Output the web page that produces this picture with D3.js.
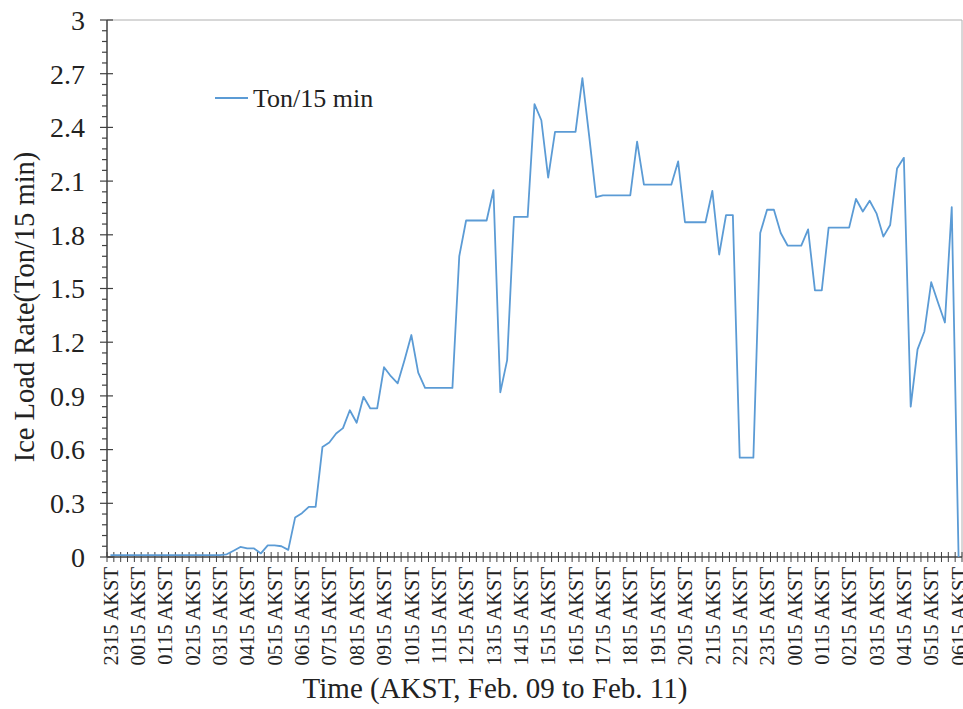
<!DOCTYPE html>
<html>
<head>
<meta charset="utf-8">
<script src="https://cdn.jsdelivr.net/npm/d3@7"></script>
<style>
  html, body { margin: 0; padding: 0; background: #fff; }
  svg { display: block; }
  text { font-family: "Liberation Serif", "Times New Roman", serif; fill: #222; }
</style>
</head>
<body>
<svg id="chart" width="963" height="709"></svg>
<script>
// Ice load rate, one value per 15-minute interval (2315 AKST Feb. 09 -> 0615 AKST Feb. 11)
const iceLoad = [
  0.01, 0.01, 0.01, 0.01, 0.01, 0.01, 0.01, 0.01, 0.01, 0.01,   // 0-9
  0.01, 0.01, 0.01, 0.01, 0.01, 0.01, 0.01, 0.015, 0.035, 0.056, // 10-19
  0.048, 0.048, 0.02, 0.065, 0.065, 0.06, 0.04, 0.22, 0.245, 0.28, // 20-29
  0.28, 0.615, 0.64, 0.69, 0.72, 0.82, 0.75, 0.895, 0.83, 0.83,  // 30-39
  1.06, 1.01, 0.97, 1.1, 1.24, 1.03, 0.945, 0.945, 0.945, 0.945, // 40-49
  0.945, 1.68, 1.88, 1.88, 1.88, 1.88, 2.05, 0.92, 1.1, 1.9,     // 50-59
  1.9, 1.9, 2.53, 2.44, 2.12, 2.375, 2.375, 2.375, 2.375, 2.675, // 60-69
  2.35, 2.01, 2.02, 2.02, 2.02, 2.02, 2.02, 2.32, 2.08, 2.08,    // 70-79
  2.08, 2.08, 2.08, 2.21, 1.87, 1.87, 1.87, 1.87, 2.045, 1.69,   // 80-89
  1.91, 1.91, 0.555, 0.555, 0.555, 1.81, 1.94, 1.94, 1.81, 1.74, // 90-99
  1.74, 1.74, 1.83, 1.49, 1.49, 1.84, 1.84, 1.84, 1.84, 2.0,     // 100-109
  1.93, 1.99, 1.92, 1.79, 1.855, 2.17, 2.23, 0.84, 1.16, 1.26,   // 110-119
  1.535, 1.42, 1.31, 1.955, 0                                    // 120-124
];

// Hourly category labels (every fourth 15-minute interval)
const timeLabels = [
  "2315 AKST", "0015 AKST", "0115 AKST", "0215 AKST", "0315 AKST", "0415 AKST",
  "0515 AKST", "0615 AKST", "0715 AKST", "0815 AKST", "0915 AKST", "1015 AKST",
  "1115 AKST", "1215 AKST", "1315 AKST", "1415 AKST", "1515 AKST", "1615 AKST",
  "1715 AKST", "1815 AKST", "1915 AKST", "2015 AKST", "2115 AKST", "2215 AKST",
  "2315 AKST", "0015 AKST", "0115 AKST", "0215 AKST", "0315 AKST", "0415 AKST",
  "0515 AKST", "0615 AKST"
];
const labelEvery = 4;

const yTickValues = [0, 0.3, 0.6, 0.9, 1.2, 1.5, 1.8, 2.1, 2.4, 2.7, 3];
const yTickText   = ["0", "0.3", "0.6", "0.9", "1.2", "1.5", "1.8", "2.1", "2.4", "2.7", "3"];
const yMinorStep = 0.06;

const seriesName = "Ton/15 min";
const xTitle = "Time (AKST, Feb. 09 to Feb. 11)";
const yTitle = "Ice Load Rate(Ton/15 min)";

const plot = { left: 107, right: 962, top: 20, bottom: 557 };
const lineColor = "#5b9bd5";
const axisColor = "#404040";

const svg = d3.select("#chart");

const x = d3.scaleBand()
  .domain(d3.range(iceLoad.length))
  .range([plot.left, plot.right])
  .paddingInner(0).paddingOuter(0);
const bw = x.bandwidth();
const cx = i => x(i) + bw / 2;

const y = d3.scaleLinear().domain([0, 3]).range([plot.bottom, plot.top]);

// plot-area border (top and right)
svg.append("path")
  .attr("d", `M${plot.left},${plot.top}H${plot.right}V${plot.bottom}`)
  .attr("fill", "none").attr("stroke", "#b0b0b0").attr("stroke-width", 1);

// Y axis: line, crossing major ticks, outside minor ticks, labels
const gy = svg.append("g");
gy.append("line")
  .attr("x1", plot.left).attr("x2", plot.left)
  .attr("y1", y(3)).attr("y2", y(0))
  .attr("stroke", axisColor).attr("stroke-width", 1.5);
const minorVals = d3.range(0, 3 + 1e-9, yMinorStep)
  .filter(v => Math.abs(v / 0.3 - Math.round(v / 0.3)) > 1e-6);
gy.selectAll("line.minor").data(minorVals).join("line")
  .attr("class", "minor")
  .attr("x1", plot.left - 5).attr("x2", plot.left)
  .attr("y1", d => y(d)).attr("y2", d => y(d))
  .attr("stroke", axisColor).attr("stroke-width", 1.2);
gy.selectAll("line.major").data(yTickValues).join("line")
  .attr("class", "major")
  .attr("x1", plot.left - 7).attr("x2", plot.left + 6)
  .attr("y1", d => y(d)).attr("y2", d => y(d))
  .attr("stroke", axisColor).attr("stroke-width", 1.2);
gy.selectAll("text").data(yTickValues).join("text")
  .attr("x", 85).attr("y", d => y(d)).attr("dy", "0.35em")
  .attr("text-anchor", "end")
  .style("font-size", "28px")
  .text((d, i) => yTickText[i]);

// X axis: line, crossing ticks at category boundaries, rotated hourly labels
const gx = svg.append("g");
gx.append("line")
  .attr("x1", plot.left).attr("x2", plot.right)
  .attr("y1", plot.bottom).attr("y2", plot.bottom)
  .attr("stroke", axisColor).attr("stroke-width", 1.5);
const boundaries = d3.range(iceLoad.length + 1).map(k => plot.left + k * bw);
gx.selectAll("line.tick").data(boundaries).join("line")
  .attr("class", "tick")
  .attr("x1", d => d).attr("x2", d => d)
  .attr("y1", plot.bottom - 5).attr("y2", plot.bottom + 5)
  .attr("stroke", axisColor).attr("stroke-width", 1);
gx.selectAll("text").data(timeLabels).join("text")
  .attr("transform", (d, k) => `translate(${cx(k * labelEvery)},${plot.bottom + 10}) rotate(-90)`)
  .attr("dy", "0.35em")
  .attr("text-anchor", "end")
  .style("font-size", "20.5px")
  .text(d => d);

// Series line
const line = d3.line()
  .x((d, i) => cx(i))
  .y(d => y(d));
svg.append("path")
  .datum(iceLoad)
  .attr("d", line)
  .attr("fill", "none")
  .attr("stroke", lineColor)
  .attr("stroke-width", 1.8)
  .attr("stroke-linejoin", "round");

// Axis titles
svg.append("text")
  .attr("x", 495).attr("y", 698)
  .attr("text-anchor", "middle")
  .style("font-size", "29px")
  .text(xTitle);
svg.append("text")
  .attr("transform", "translate(34,307) rotate(-90)")
  .attr("text-anchor", "middle")
  .style("font-size", "28.5px")
  .text(yTitle);

// Legend
const lg = svg.append("g").attr("transform", "translate(215,98)");
lg.append("line").attr("x1", 0).attr("x2", 33).attr("y1", 0).attr("y2", 0)
  .attr("stroke", lineColor).attr("stroke-width", 1.8);
lg.append("text").attr("x", 38).attr("y", 0).attr("dy", "0.35em")
  .style("font-size", "26px")
  .text(seriesName);
</script>
</body>
</html>
